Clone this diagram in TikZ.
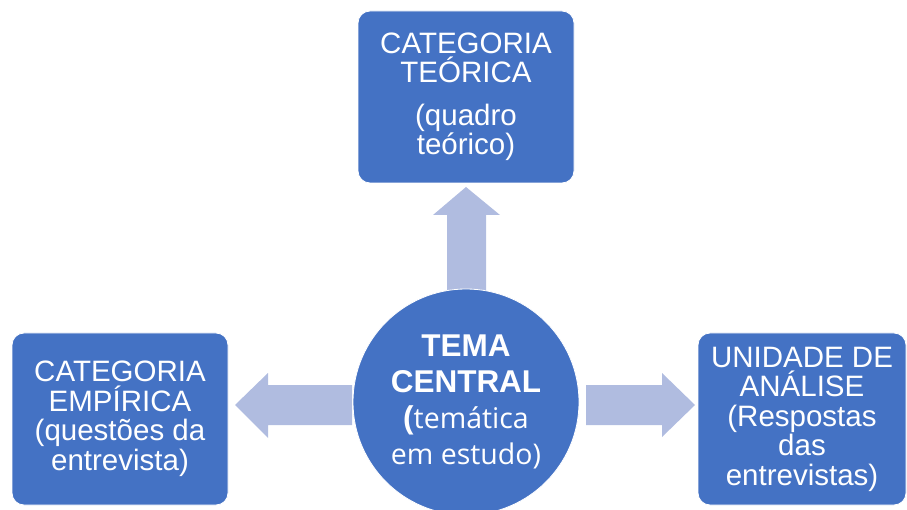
\documentclass[tikz,border=0pt]{standalone}
\usepackage{fontspec}
\setmainfont{Liberation Sans}
\newfontfamily\osans{Open Sans}
\definecolor{boxblue}{RGB}{68,114,196}
\definecolor{arrowblue}{RGB}{176,188,224}
\begin{document}
\begin{tikzpicture}[x=1pt,y=-1pt,
  catbox/.style={rectangle, rounded corners=12pt, fill=boxblue, draw=white, line width=0.8pt,
    text=white, align=center, inner sep=0pt,
    font=\fontsize{29.5}{29.5}\selectfont},
  blockarrow/.style={fill=arrowblue}
]
\useasboundingbox (0,0) rectangle (907,510);
% block arrows
\fill[blockarrow] (447,292) -- (447,215) -- (433,215) -- (466,187) -- (500,215) -- (486,215) -- (486,292) -- cycle;
\fill[blockarrow] (352,385) -- (268,385) -- (268,373) -- (235,405) -- (268,438) -- (268,425) -- (352,425) -- cycle;
\fill[blockarrow] (586,385) -- (662,385) -- (662,373) -- (695,405) -- (662,437) -- (662,425) -- (586,425) -- cycle;
% boxes
\node[catbox, minimum width=216pt, minimum height=172pt] (top) at (466,97)
  {CATEGORIA\\TEÓRICA\\[13pt](quadro\\teórico)};
\node[catbox, minimum width=216pt, minimum height=172pt] (left) at (120,419)
  {CATEGORIA\\EMPÍRICA\\(questões da\\entrevista)};
\node[catbox, minimum width=208pt, minimum height=172pt] (right) at (802,419)
  {UNIDADE DE\\ANÁLISE\\(Respostas\\das\\entrevistas)};
% circle
\node[circle, fill=boxblue, draw=white, line width=0.8pt, minimum size=226pt, inner sep=0pt,
  text=white, align=center, font=\fontsize{31.5}{36}\selectfont] (c) at (466,402)
  {\textbf{TEMA}\\\textbf{CENTRAL}\\\textbf{(}{\osans\fontsize{28.5}{36}\selectfont temática}\\{\osans\fontsize{28.5}{36}\selectfont em estudo)}};
\end{tikzpicture}
\end{document}
